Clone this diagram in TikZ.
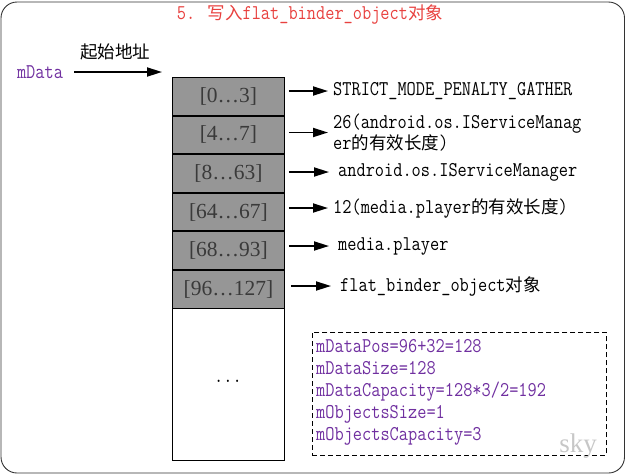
\documentclass[tikz,border=0pt]{standalone}
\usepackage{fontspec}
\setmainfont{Liberation Serif}
\newfontfamily\monof[FakeStretch=0.85]{Latin Modern Mono}
\newfontfamily\cjkf{Noto Sans CJK SC}
\usetikzlibrary{arrows.meta}
\newcommand{\zh}[1]{{\cjkf\fontsize{17.5}{22}\selectfont #1}}
\definecolor{mpurple}{HTML}{7030A0}
\definecolor{tred}{HTML}{E8413F}
\definecolor{rowgray}{HTML}{969696}
\definecolor{labgray}{HTML}{3A3A3A}
\begin{document}
\begin{tikzpicture}[x=1pt,y=-1pt,
  mono/.style={font=\monof\fontsize{21}{21}\selectfont, inner sep=2pt},
  rowbox/.style={draw=black, line width=0.9pt, fill=rowgray, minimum width=112pt, minimum height=37.67pt, inner sep=0pt, text=labgray, font=\fontsize{21.5}{22}\selectfont},
  arr/.style={line width=1.8pt, -{Triangle[length=15pt,width=9pt]}},
  lab/.style={mono, anchor=west, align=left},
  dashbox/.style={draw=black, line width=0.8pt, dash pattern=on 5pt off 3pt, inner sep=0pt}
  ]
\useasboundingbox (0,0) rectangle (626,475);
\draw[draw=black!80, line width=0.9pt, rounded corners=16pt] (1,2) rectangle (624.5,473);
\node[mono, text=tred] (title) at (310,15) {5. \zh{写入}flat\_binder\_object\zh{对象}};
\node[mono, text=mpurple] (mdata) at (40,72) {mData};
\node (addr) at (115,52) {\zh{起始地址}};
\coordinate (mtip) at (162,72);
\draw[arr] (mdata.east) ++(9pt,0) -- (mtip);
% memory rows
\node[rowbox, anchor=north west] (r1) at (172,77) {[0…3]};
\node[rowbox, anchor=north] (r2) at (r1.south) {[4…7]};
\node[rowbox, anchor=north] (r3) at (r2.south) {[8…63]};
\node[rowbox, anchor=north] (r4) at (r3.south) {[64…67]};
\node[rowbox, anchor=north] (r5) at (r4.south) {[68…93]};
\node[rowbox, anchor=north] (r6) at (r5.south) {[96…127]};
\node[draw=black, line width=0.9pt, fill=white, anchor=north, minimum width=112pt, minimum height=152pt, inner sep=0pt] (rest) at (r6.south) {};
\node[mono] (dots) at (228,381) {...};
% labels
\node[lab] (l1) at (331,91) {STRICT\_MODE\_PENALTY\_GATHER};
\node[lab] (l2) at (331,132.5) {26(android.os.IServiceManag\\er\zh{的有效长度})};
\node[lab] (l3) at (336,172) {android.os.IServiceManager};
\node[lab] (l4) at (331,208) {12(media.player\zh{的有效长度})};
\node[lab] (l5) at (336,246) {media.player};
\node[lab] (l6) at (338,286) {flat\_binder\_object\zh{对象}};
\draw[arr, shorten >=3pt] ([xshift=4pt]r1.east |- l1.west) -- (l1.west);
\draw[arr, shorten >=3pt] ([xshift=4pt]r2.east |- l2.west) -- (l2.west);
\draw[arr, shorten >=3pt] ([xshift=4pt]r3.east |- l3.west) -- ([xshift=-4pt]l3.west);
\draw[arr, shorten >=3pt] ([xshift=4pt]r4.east |- l4.west) -- (l4.west);
\draw[arr, shorten >=3pt] ([xshift=4pt]r5.east |- l5.west) -- ([xshift=-4pt]l5.west);
\draw[arr, shorten >=3pt] ([xshift=6pt]r6.east |- l6.west) -- ([xshift=-4pt]l6.west);
% info box
\node[dashbox, anchor=north west, minimum width=294pt, minimum height=123pt] (box) at (312,332) {};
\node[mono, anchor=north west, align=left, text=mpurple, font=\monof\fontsize{21}{22}\selectfont] (info) at ([xshift=2pt,yshift=-5pt]box.north west)
 {mDataPos=96+32=128\\mDataSize=128\\mDataCapacity=128*3/2=192\\mObjectsSize=1\\mObjectsCapacity=3};
\node[text=black!22, font=\fontsize{27}{27}\selectfont, inner sep=0pt] (sky) at (578,446) {sky};
\end{tikzpicture}
\end{document}
